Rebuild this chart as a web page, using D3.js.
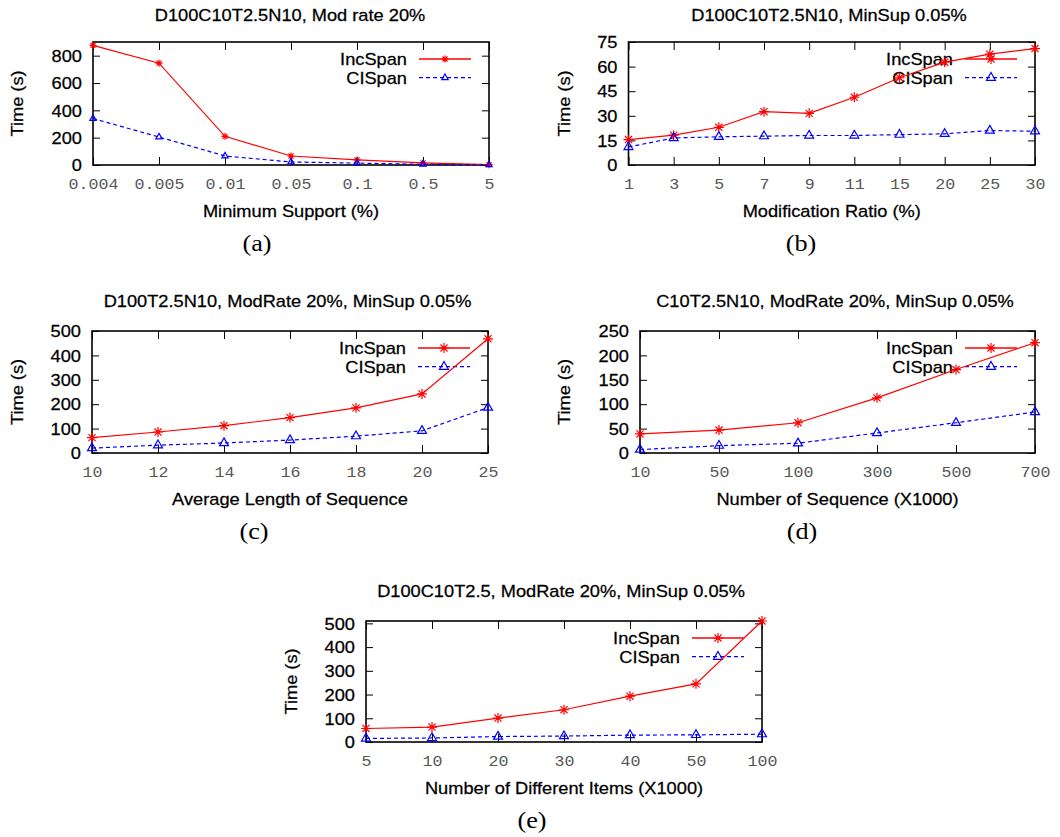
<!DOCTYPE html>
<html>
<head>
<meta charset="utf-8">
<script src="https://cdn.jsdelivr.net/npm/d3@7"></script>
<style>
  body { margin: 0; background: #fff; }
  svg { display: block; }
  .sans { stroke: #000; stroke-width: 0.25px; }
</style>
</head>
<body>
<div class="container"></div>
<script>
const width = 1060;
const height = 837;

// (a) varying minimum support
const supportCats = ['0.004', '0.005', '0.01', '0.05', '0.1', '0.5', '5'];
const supportInc = [875, 745, 210, 66, 37, 15, 3];
const supportCI = [340, 205, 66, 22, 14, 5, 1];
const supportTicks = [0, 200, 400, 600, 800];

// (b) varying modification ratio
const ratioCats = ['1', '3', '5', '7', '9', '11', '15', '20', '25', '30'];
const ratioInc = [15.5, 18.2, 23, 32.5, 31.5, 41.3, 53.2, 62.7, 67.6, 71];
const ratioCI = [11, 16.5, 17.2, 17.6, 18, 18, 18.5, 19, 21, 20.6];
const ratioTicks = [0, 15, 30, 45, 60, 75];

// (c) varying average sequence length
const lengthCats = ['10', '12', '14', '16', '18', '20', '25'];
const lengthInc = [63, 86, 112, 145, 185, 242, 468];
const lengthCI = [20, 32, 41, 53, 69, 91, 186];
const lengthTicks = [0, 100, 200, 300, 400, 500];

// (d) varying number of sequences
const seqCats = ['10', '50', '100', '300', '500', '700'];
const seqInc = [39, 47, 62, 113, 171, 226];
const seqCI = [7, 15, 20, 41, 62, 84];
const seqTicks = [0, 50, 100, 150, 200, 250];

// (e) varying number of distinct items
const itemCats = ['5', '10', '20', '30', '40', '50', '100'];
const itemInc = [57, 63, 101, 136, 193, 245, 510];
const itemCI = [15, 17, 23, 25, 29, 30, 33];
const itemTicks = [0, 100, 200, 300, 400, 500];

const seriesNames = ['IncSpan', 'CISpan'];

const panels = [
  { title: 'D100C10T2.5N10, Mod rate 20%', xlabel: 'Minimum Support (%)', tag: '(a)',
    cats: supportCats, inc: supportInc, ci: supportCI, ticks: supportTicks, yMax: 900,
    frame: [93, 42, 489, 165], titleX: 290, titleY: 21, yLabelX: 17.5, tagX: 257, small: true },
  { title: 'D100C10T2.5N10, MinSup 0.05%', xlabel: 'Modification Ratio (%)', tag: '(b)',
    cats: ratioCats, inc: ratioInc, ci: ratioCI, ticks: ratioTicks, yMax: 75,
    frame: [628.5, 42, 1035, 165], titleX: 829, titleY: 21, yLabelX: 564, tagX: 801 },
  { title: 'D100T2.5N10, ModRate 20%, MinSup 0.05%', xlabel: 'Average Length of Sequence', tag: '(c)',
    cats: lengthCats, inc: lengthInc, ci: lengthCI, ticks: lengthTicks, yMax: 500,
    frame: [92, 331, 488, 453], titleX: 287.5, titleY: 307, yLabelX: 17.5, tagX: 254 },
  { title: 'C10T2.5N10, ModRate 20%, MinSup 0.05%', xlabel: 'Number of Sequence (X1000)', tag: '(d)',
    cats: seqCats, inc: seqInc, ci: seqCI, ticks: seqTicks, yMax: 250,
    frame: [640, 331, 1035, 453], titleX: 835, titleY: 307, yLabelX: 564, tagX: 802 },
  { title: 'D100C10T2.5, ModRate 20%, MinSup 0.05%', xlabel: 'Number of Different Items (X1000)', tag: '(e)',
    cats: itemCats, inc: itemInc, ci: itemCI, ticks: itemTicks, yMax: 510,
    frame: [366, 621, 762, 742], titleX: 561, titleY: 597, yLabelX: 291, tagX: 532 },
];

// the original figure is horizontally stretched a bit
const stretch = 1.14;

// gnuplot-like point types: "+" and "x" overlaid, and an open triangle
const starType = {
  draw(ctx, size) {
    const r = Math.sqrt(size) / 2;
    const d = r * 0.7071;
    ctx.moveTo(-r, 0); ctx.lineTo(r, 0);
    ctx.moveTo(0, -r); ctx.lineTo(0, r);
    ctx.moveTo(-d, -d); ctx.lineTo(d, d);
    ctx.moveTo(-d, d); ctx.lineTo(d, -d);
  },
};
const triType = {
  draw(ctx, size) {
    const s = Math.sqrt(size) / 2;
    ctx.moveTo(0, -s * 1.15);
    ctx.lineTo(s, s * 0.58);
    ctx.lineTo(-s, s * 0.58);
    ctx.closePath();
  },
};

const styles = [
  { color: '#ff0000', dash: null, type: starType },
  { color: '#0000ff', dash: '4,3', type: triType },
];

const sans = 'Liberation Sans, Arial, Helvetica, sans-serif';
const mono = 'Liberation Mono, Courier New, monospace';
const serif = 'Liberation Serif, Times New Roman, serif';

const svg = d3.select('.container')
  .append('svg')
  .attr('width', width)
  .attr('height', height);

// text drawn in a stretched local frame
function label(parent, x, y, str, { anchor = 'middle', rotate = 0, family = sans, size = 16, cls = 'sans', dy = null } = {}) {
  return parent.append('g')
    .attr('transform', `translate(${x},${y}) rotate(${rotate}) scale(${stretch},1)`)
    .append('text')
    .attr('class', cls)
    .attr('text-anchor', anchor)
    .attr('font-family', family)
    .attr('font-size', size)
    .attr('dy', dy)
    .text(str);
}

panels.forEach((p) => {
  const [x0, y0, x1, y1] = p.frame;
  const x = d3.scalePoint().domain(p.cats).range([x0, x1]);
  const y = d3.scaleLinear().domain([0, p.yMax]).range([y1, y0]);
  const g = svg.append('g');

  const starSize = p.small ? 50 : 100;
  const triSize = p.small ? 40 : 80;

  label(g, p.titleX, p.titleY, p.title);

  // frame
  g.append('rect')
    .attr('x', x0)
    .attr('y', y0)
    .attr('width', x1 - x0)
    .attr('height', y1 - y0)
    .attr('fill', 'none')
    .attr('stroke', '#000')
    .attr('stroke-width', 1.6);

  // axes, ticks mirrored inward
  g.append('g')
    .attr('transform', `translate(0,${y1})`)
    .call(d3.axisBottom(x).tickSizeInner(-8).tickSizeOuter(0).tickPadding(0))
    .call((a) => a.select('.domain').remove())
    .attr('font-family', mono)
    .attr('font-size', 14.6)
    .call((a) => a.selectAll('text')
      .attr('y', 24)
      .attr('dy', null)
      .attr('fill', '#555')
      .attr('transform', `scale(${stretch},1)`));

  g.append('g')
    .attr('transform', `translate(0,${y0})`)
    .call(d3.axisTop(x).tickSizeInner(-8).tickSizeOuter(0).tickFormat(''))
    .call((a) => a.select('.domain').remove());

  g.append('g')
    .attr('transform', `translate(${x0},0)`)
    .call(d3.axisLeft(y).tickValues(p.ticks).tickSizeInner(-7).tickSizeOuter(0).tickPadding(11))
    .call((a) => a.select('.domain').remove())
    .attr('font-family', sans)
    .attr('font-size', 16)
    .call((a) => a.selectAll('text')
      .attr('class', 'sans')
      .attr('fill', '#000')
      .attr('x', -11 / stretch)
      .attr('dy', '0.36em')
      .attr('transform', `scale(${stretch},1)`));

  g.append('g')
    .attr('transform', `translate(${x1},0)`)
    .call(d3.axisRight(y).tickValues(p.ticks).tickSizeInner(-7).tickSizeOuter(0).tickFormat(''))
    .call((a) => a.select('.domain').remove());

  // axis labels
  label(g, p.yLabelX, (y0 + y1) / 2, 'Time (s)', { rotate: -90, dy: '0.35em' });
  label(g, (x0 + x1) / 2, y1 + 52, p.xlabel);
  label(g, p.tagX, y1 + 86, p.tag, { family: serif, size: 23, cls: null });

  // legend
  seriesNames.forEach((name, i) => {
    const st = styles[i];
    const ly = y0 + 17 + i * 18.7;
    const lg = g.append('g');
    label(lg, x1 - 82, ly + 6, name, { anchor: 'end' });
    lg.append('line')
      .attr('x1', x1 - 70)
      .attr('x2', x1 - 18)
      .attr('y1', ly)
      .attr('y2', ly)
      .attr('stroke', st.color)
      .attr('stroke-width', 1.3)
      .attr('stroke-dasharray', st.dash);
    lg.append('path')
      .attr('transform', `translate(${x1 - 44},${ly})`)
      .attr('d', d3.symbol(st.type, i === 0 ? starSize : triSize))
      .attr('fill', 'none')
      .attr('stroke', st.color)
      .attr('stroke-width', 1.2);
  });

  // series
  [p.inc, p.ci].forEach((values, i) => {
    const st = styles[i];
    const line = d3.line()
      .x((_, j) => x(p.cats[j]))
      .y((d) => y(d));

    g.append('path')
      .datum(values)
      .attr('d', line)
      .attr('fill', 'none')
      .attr('stroke', st.color)
      .attr('stroke-width', 1.2)
      .attr('stroke-dasharray', st.dash);

    g.append('g')
      .selectAll('path')
      .data(values)
      .join('path')
      .attr('transform', (d, j) => `translate(${x(p.cats[j])},${y(d)})`)
      .attr('d', d3.symbol(st.type, i === 0 ? starSize : triSize))
      .attr('fill', 'none')
      .attr('stroke', st.color)
      .attr('stroke-width', 1.2);
  });
});
</script>
</body>
</html>
